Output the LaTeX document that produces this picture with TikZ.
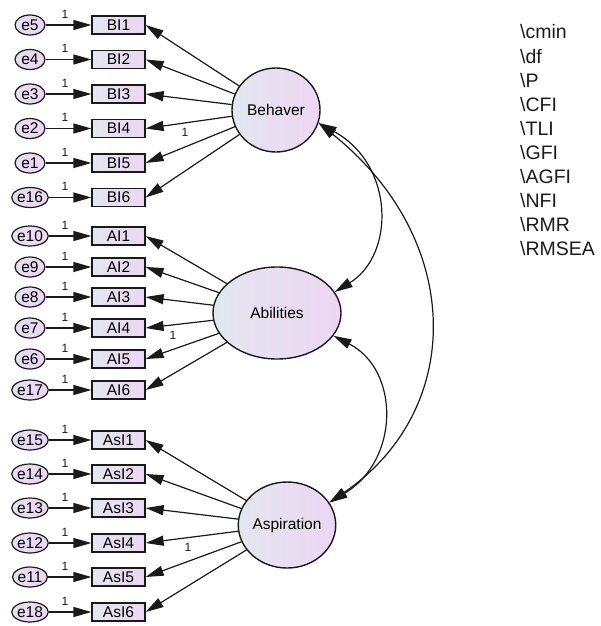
\documentclass[tikz,border=0pt]{standalone}
\usepackage{fontspec}
\setmainfont{Liberation Sans}
\usetikzlibrary{arrows.meta,shapes.geometric}
\definecolor{cL}{HTML}{E3E7F0}
\definecolor{cR}{HTML}{ECD6F2}
\definecolor{ink}{HTML}{1A1A1A}
\tikzset{
  errnode/.style={ellipse, draw=ink, line width=1.2pt, minimum width=30pt, minimum height=20pt,
    inner sep=0pt, left color=cL!50!cR, right color=cR, font=\fontsize{15.5}{15.5}\selectfont},
  boxnode/.style={rectangle, draw=ink, line width=1.2pt, minimum width=53pt, minimum height=18pt,
    inner sep=0pt, left color=cL, right color=cR, font=\fontsize{15.5}{15.5}\selectfont},
  latnode/.style={ellipse, draw=ink, line width=1.4pt, inner sep=0pt,
    left color=cL, right color=cR, font=\fontsize{15.5}{15.5}\selectfont},
  arr/.style={-{Triangle[length=18pt,width=10pt]}, line width=1.2pt, draw=ink},
  dblarr/.style={{Triangle[length=18pt,width=10pt]}-{Triangle[length=18pt,width=10pt]}, line width=1.2pt, draw=ink},
  onelab/.style={font=\fontsize{12}{12}\selectfont, inner sep=0pt, text=ink},
  fitlab/.style={font=\fontsize{19.5}{19.5}\selectfont, inner sep=0pt, anchor=base west, text=ink}
}
\begin{document}
\begin{tikzpicture}[x=1pt,y=-1pt]
\useasboundingbox (0,0) rectangle (601,626);
% latent variables
\node[latnode, minimum width=88pt, minimum height=84pt] (Beh) at (276,110) {Behaver};
\node[latnode, minimum width=128pt, minimum height=92pt] (Abi) at (277,313) {Abilities};
\node[latnode, minimum width=88pt, minimum height=86pt] (Asp) at (287,525) {Aspiration};
% indicators and errors
\foreach \e/\b/\y in {e5/BI1/25, e4/BI2/59.5, e3/BI3/94, e2/BI4/128.5, e1/BI5/163, e16/BI6/197.5,
                      e10/AI1/236, e9/AI2/267, e8/AI3/297, e7/AI4/328, e6/AI5/359, e17/AI6/390,
                      e15/AsI1/440, e14/AsI2/474, e13/AsI3/508, e12/AsI4/543, e11/AsI5/577, e18/AsI6/612} {
  \node[errnode] (\e) at (30,\y) {\e};
  \node[boxnode] (\b) at (118.5,\y) {\b};
  \draw[arr] (\e) -- (\b);
  \node[onelab] (l\e) at (65,\y-11) {1};
}
% loadings
\foreach \b in {BI1,BI2,BI3,BI4,BI5,BI6} \draw[arr] (Beh) -- (\b.east);
\foreach \b in {AI1,AI2,AI3,AI4,AI5,AI6} \draw[arr] (Abi) -- (\b.east);
\foreach \b in {AsI1,AsI2,AsI3,AsI4,AsI5,AsI6} \draw[arr] (Asp) -- (\b.east);
\node[onelab] (lBeh) at (185,132) {1};
\node[onelab] (lAbi) at (173,335) {1};
\node[onelab] (lAsp) at (188,547) {1};
% covariances
\draw[dblarr] (Beh.-17.6) .. controls (395,165) and (395,255) .. (Abi.20);
\draw[dblarr] (Beh.-17.6) .. controls (465,240) and (465,410) .. (Asp.28);
\draw[dblarr] (Abi.-22) .. controls (400,370) and (400,460) .. (Asp.28);
% fit list
\foreach \t [count=\i from 0] in {cmin,df,P,CFI,TLI,GFI,AGFI,NFI,RMR,RMSEA}
  \node[fitlab] (fit\i) at (520,{39+24.1*\i}) {\textbackslash\t};
\end{tikzpicture}
\end{document}
